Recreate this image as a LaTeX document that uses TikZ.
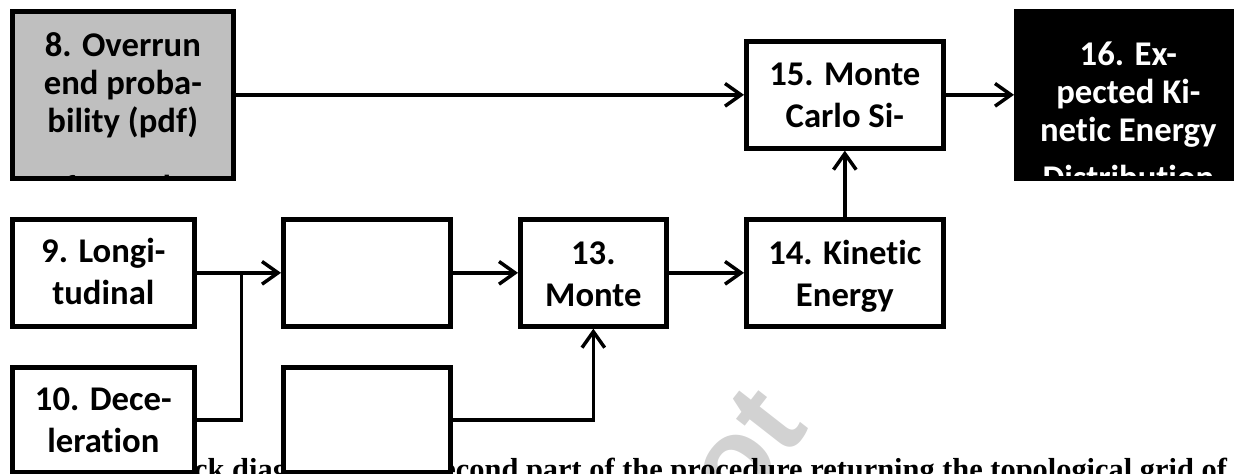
\documentclass[tikz,border=0pt]{standalone}
\usepackage{fontspec}
\setmainfont{Carlito}[Ligatures=CommonOff]
\newfontfamily\capfont{Liberation Serif}
\newfontfamily\markfont{Liberation Sans}
\usetikzlibrary{positioning,arrows.meta}

\begin{document}
\begin{tikzpicture}[x=0.75pt, y=-0.75pt,
  blk/.style={draw, line width=3.5pt, fill=white, anchor=north west, inner sep=0pt},
  lbl/.style={draw=none, fill=none, minimum size=0pt, inner sep=0pt, anchor=base, font=\bfseries\fontsize{26}{31.5}\selectfont},
  inside/.style n args={3}{path picture={\node[lbl, #1] at ([yshift=#2]path picture bounding box.north) {\begin{tabular}[t]{@{}c@{}}#3\end{tabular}};}},
  arr/.style={-{Straight Barb[length=12pt, width=17pt]}, line width=2.6pt},
  conn/.style={line width=2.6pt}]
\useasboundingbox (0,0) rectangle (1234,474);
% watermark and caption behind the boxes
\node[font=\markfont\bfseries\fontsize{90}{90}\selectfont, text=gray!35, rotate=52] (mark) at (722,478) {not};
\node[font=\capfont\bfseries\fontsize{22.8}{24}\selectfont, anchor=base west, inner sep=0pt] (cap) at (150,479) {Block diagram of the second part of the procedure returning the topological grid of};
% top row
\node[blk, fill=gray!50, minimum width=165.75pt, minimum height=125.25pt,
  inside={font=\bfseries\fontsize{26}{28.5}\selectfont}{-33.75pt}{8. Overrun\\end proba-\\bility (pdf)\\[22pt]for each}] (b8) at (10,9) {};
\node[blk, minimum width=147.75pt, minimum height=80.25pt,
  inside={}{-33pt}{15. Monte\\Carlo Si-}] (b15) at (744,39) {};
\node[blk, fill=black, minimum width=168pt, minimum height=125.25pt,
  inside={text=white, font=\bfseries\fontsize{26}{28.5}\selectfont}{-40.5pt}{16. Ex-\\pected Ki-\\netic Energy\\[8pt]Distribution}] (b16) at (1014,9) {};
% middle row
\node[blk, minimum width=136.5pt, minimum height=80.25pt,
  inside={}{-32.25pt}{9. Longi-\\tudinal}] (b9) at (10,217) {};
\node[blk, minimum width=125.25pt, minimum height=80.25pt] (b11) at (281,217) {};
\node[blk, minimum width=109.5pt, minimum height=80.25pt,
  inside={}{-33.75pt}{13.\\Monte}] (b13) at (518,217) {};
\node[blk, minimum width=147.75pt, minimum height=80.25pt,
  inside={}{-33.75pt}{14. Kinetic\\Energy}] (b14) at (744,217) {};
% bottom row
\node[blk, minimum width=136.5pt, minimum height=78.75pt,
  inside={}{-32.25pt}{10. Dece-\\leration}] (b10) at (10,365) {};
\node[blk, minimum width=125.25pt, minimum height=78.75pt] (b12) at (281,365) {};
% connectors
\coordinate[right=33.75pt of b9.east] (jn);
\draw[arr] (b8) -- (b15);
\draw[arr] (b15) -- (b16);
\draw[arr] (b14) -- (b15);
\draw[arr] (b9) -- (b11);
\draw[conn] (b10.east) -| (jn);
\draw[arr] (b11) -- (b13);
\draw[arr] (b12.east) -| (b13.south);
\draw[arr] (b13) -- (b14);
\end{tikzpicture}
\end{document}
